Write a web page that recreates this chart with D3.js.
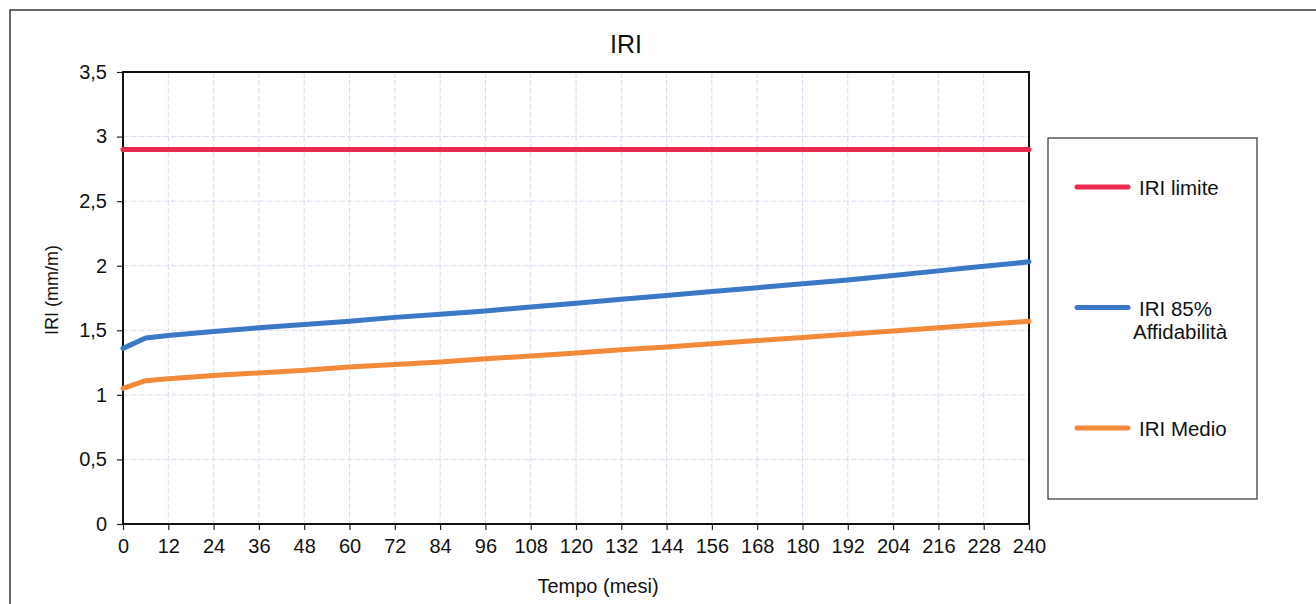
<!DOCTYPE html>
<html>
<head>
<meta charset="utf-8">
<script src="https://cdn.jsdelivr.net/npm/d3@7"></script>
<style>
  body { margin: 0; background: #fff; }
  svg { font-family: "Liberation Sans", Arial, sans-serif; }
</style>
</head>
<body>
<script>
// months on the x axis, with the three IRI series
const months   = [0, 6, 12, 24, 36, 48, 60, 72, 84, 96, 108, 120, 132, 144, 156, 168, 180, 192, 204, 216, 228, 240];
const iriLimite = [2.9, 2.9, 2.9, 2.9, 2.9, 2.9, 2.9, 2.9, 2.9, 2.9, 2.9, 2.9, 2.9, 2.9, 2.9, 2.9, 2.9, 2.9, 2.9, 2.9, 2.9, 2.9];
const iri85     = [1.36, 1.44, 1.46, 1.49, 1.52, 1.545, 1.57, 1.60, 1.625, 1.65, 1.68, 1.71, 1.74, 1.77, 1.80, 1.83, 1.86, 1.89, 1.925, 1.96, 1.995, 2.03];
const iriMedio  = [1.05, 1.11, 1.125, 1.15, 1.17, 1.19, 1.215, 1.235, 1.255, 1.28, 1.30, 1.325, 1.35, 1.37, 1.395, 1.42, 1.445, 1.47, 1.495, 1.52, 1.545, 1.57];

const xTicks = d3.range(0, 241, 12);
const yTicks = [0, 0.5, 1, 1.5, 2, 2.5, 3, 3.5];

const seriesNames  = ['IRI limite', 'IRI 85%\nAffidabilità', 'IRI Medio'];
const seriesColors = ['#ea2a4e', '#3b78c6', '#f28a3a'];
const seriesValues = [iriLimite, iri85, iriMedio];

const W = 1316, H = 604;
const M = { left: 123, top: 72, right: 1029, bottom: 524 };

const svg = d3.select('body').append('svg')
    .attr('width', W)
    .attr('height', H);

// outer chart frame (runs off the right and bottom edges)
svg.append('rect')
    .attr('x', 10).attr('y', 10)
    .attr('width', 1400).attr('height', 700)
    .attr('fill', 'none')
    .attr('stroke', '#333')
    .attr('stroke-width', 1.5);

const x = d3.scaleLinear().domain([0, 240]).range([M.left, M.right]);
const y = d3.scaleLinear().domain([0, 3.5]).range([M.bottom, M.top]);

const fmt = d => String(d).replace('.', ',');

// grid
svg.append('g')
    .selectAll('line.vg')
    .data(xTicks.slice(1, -1))
    .enter().append('line')
    .attr('x1', d => x(d)).attr('x2', d => x(d))
    .attr('y1', M.top).attr('y2', M.bottom)
    .attr('stroke', '#dcdcf2')
    .attr('stroke-dasharray', '6,2');

svg.append('g')
    .selectAll('line.hg')
    .data(yTicks.slice(1, -1))
    .enter().append('line')
    .attr('x1', M.left).attr('x2', M.right)
    .attr('y1', d => y(d)).attr('y2', d => y(d))
    .attr('stroke', '#dcdcf2')
    .attr('stroke-dasharray', '6,2');

// axes
const xAxis = d3.axisBottom(x).tickValues(xTicks).tickSize(6).tickPadding(9).tickFormat(fmt);
const yAxis = d3.axisLeft(y).tickValues(yTicks).tickSize(6).tickPadding(10).tickFormat(fmt);

const gx = svg.append('g')
    .attr('transform', `translate(0,${M.bottom})`)
    .call(xAxis);
const gy = svg.append('g')
    .attr('transform', `translate(${M.left},0)`)
    .call(yAxis);

[gx, gy].forEach(g => {
    g.select('.domain').remove();
    g.selectAll('.tick line').attr('stroke', '#222').attr('stroke-width', 1.2);
    g.selectAll('.tick text')
        .attr('fill', '#111')
        .style('font-size', '20px')
        .style('font-family', '"Liberation Sans", Arial, sans-serif');
});

// plot frame
svg.append('rect')
    .attr('x', M.left).attr('y', M.top)
    .attr('width', M.right - M.left).attr('height', M.bottom - M.top)
    .attr('fill', 'none')
    .attr('stroke', '#111')
    .attr('stroke-width', 2);

// series
const line = d3.line()
    .x((d, i) => x(months[i]))
    .y(d => y(d));

svg.append('g')
    .selectAll('path')
    .data(seriesValues)
    .enter().append('path')
    .attr('d', line)
    .attr('fill', 'none')
    .attr('stroke', (d, i) => seriesColors[i])
    .attr('stroke-width', 5)
    .attr('stroke-linejoin', 'round')
    .attr('stroke-linecap', 'round');

// titles
svg.append('text')
    .attr('x', 626).attr('y', 53)
    .attr('text-anchor', 'middle')
    .style('font-size', '25px')
    .attr('fill', '#111')
    .text('IRI');

svg.append('text')
    .attr('transform', 'translate(58,290) rotate(-90)')
    .attr('text-anchor', 'middle')
    .style('font-size', '18px')
    .attr('fill', '#111')
    .text('IRI (mm/m)');

svg.append('text')
    .attr('x', 598).attr('y', 593)
    .attr('text-anchor', 'middle')
    .style('font-size', '20px')
    .attr('fill', '#111')
    .text('Tempo (mesi)');

// legend
const legend = svg.append('g');
legend.append('rect')
    .attr('x', 1048).attr('y', 138)
    .attr('width', 209).attr('height', 361)
    .attr('fill', '#fff')
    .attr('stroke', '#333')
    .attr('stroke-width', 1.2);

const ly = d3.scalePoint().domain(d3.range(seriesNames.length)).range([187, 428]);

const item = legend.selectAll('g.item')
    .data(seriesNames)
    .enter().append('g')
    .attr('transform', (d, i) => `translate(0,${ly(i)})`);

item.append('line')
    .attr('x1', 1077).attr('x2', 1128)
    .attr('stroke', (d, i) => seriesColors[i])
    .attr('stroke-width', 5)
    .attr('stroke-linecap', 'round');

item.append('text')
    .style('font-size', '20.5px')
    .attr('fill', '#111')
    .each(function (d) {
        const parts = d.split('\n');
        const t = d3.select(this);
        parts.forEach((p, k) => {
            t.append('tspan')
                .attr('x', k === 0 ? 1139 : 1133)
                .attr('y', k * 23 + 8)
                .text(p);
        });
    });
</script>
</body>
</html>
